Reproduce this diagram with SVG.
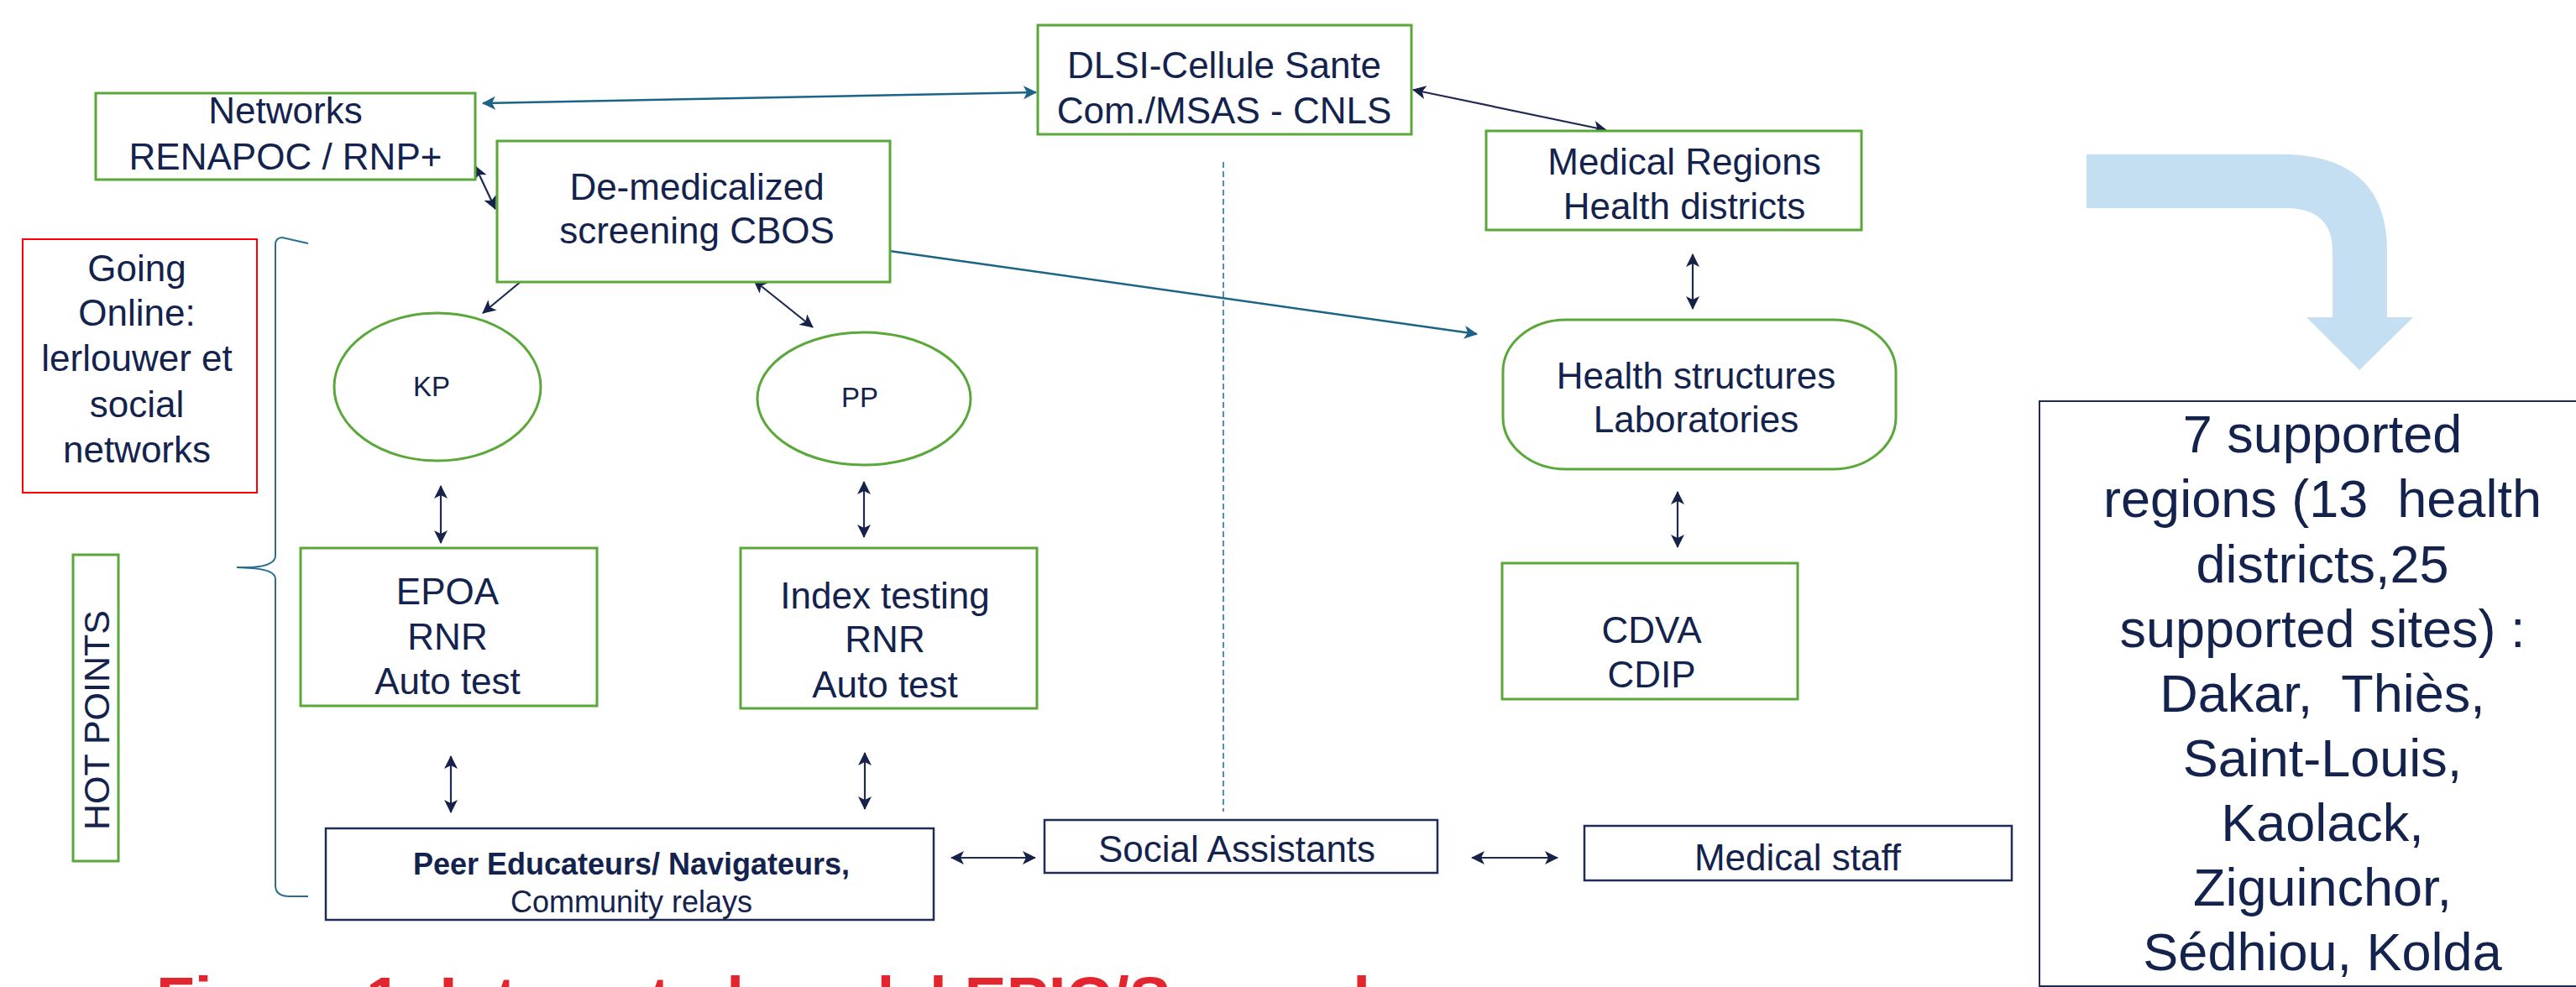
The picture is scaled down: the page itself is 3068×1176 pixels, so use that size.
<svg xmlns="http://www.w3.org/2000/svg" width="3068" height="1176" viewBox="0 0 3068 1176">
<style>
  text { font-family: "Liberation Sans", Arial, sans-serif; fill: #14234D; }
  .t44 { font-size: 44px; text-anchor: middle; }
  .t33 { font-size: 33px; text-anchor: middle; }
  .t36 { font-size: 36px; text-anchor: middle; }
  .big { font-size: 63px; text-anchor: middle; white-space: pre; }
  .gbox { fill: #FFFFFF; stroke: #5BA83A; stroke-width: 3; }
  .nbox { fill: #FFFFFF; stroke: #1F2C58; stroke-width: 2.5; }
  .teal { stroke: #1B6487; stroke-width: 2.5; fill: none; marker-start: url(#hTeal); marker-end: url(#hTeal); }
  .navy { stroke: #1E2A55; stroke-width: 2.2; fill: none; marker-start: url(#hNavy); marker-end: url(#hNavy); }
  .caption { font-size: 75px; font-weight: bold; fill: #E3262D; }
</style>
<defs>
  <marker id="hTeal" viewBox="0 0 16 16" markerWidth="16" markerHeight="16" markerUnits="userSpaceOnUse" refX="15" refY="8" orient="auto-start-reverse">
    <path d="M0,0 L16,8 L0,16 L4,8 z" fill="#1B6487"/>
  </marker>
  <marker id="hNavy" viewBox="0 0 16 16" markerWidth="16" markerHeight="16" markerUnits="userSpaceOnUse" refX="15" refY="8" orient="auto-start-reverse">
    <path d="M0,0 L16,8 L0,16 L4,8 z" fill="#16224A"/>
  </marker>
</defs>
<rect width="3068" height="1176" fill="#FFFFFF"/>

<g id="connectors">
  <line x1="1457" y1="193" x2="1457" y2="967" stroke="#2B7599" stroke-width="1.6" stroke-dasharray="7 4"/>
  <path d="M367,290 L336,283 Q328,283 328,292 L328,662 Q328,674 300,676 L282,676 L300,677 Q328,679 328,690 L328,1055 Q328,1068 345,1068 L367,1068" fill="none" stroke="#2A6E8F" stroke-width="2"/>
  <line class="teal" x1="575" y1="123" x2="1234" y2="110"/>
  <line class="navy" x1="1683" y1="107" x2="1913" y2="155"/>
  <line class="navy" x1="566" y1="198" x2="590" y2="249"/>
  <line class="navy" x1="645" y1="315" x2="575" y2="373"/>
  <line class="navy" x1="898" y1="334" x2="968" y2="390"/>
  <line class="teal" x1="1031" y1="295" x2="1759" y2="398"/>
  <line class="navy" x1="2016" y1="303" x2="2016" y2="368"/>
  <line class="navy" x1="1998" y1="586" x2="1998" y2="652"/>
  <line class="navy" x1="525" y1="579" x2="525" y2="647"/>
  <line class="navy" x1="1029" y1="574" x2="1029" y2="640"/>
  <line class="navy" x1="537" y1="901" x2="537" y2="968"/>
  <line class="navy" x1="1030" y1="897" x2="1030" y2="964"/>
  <line class="navy" x1="1133" y1="1022" x2="1233" y2="1022" stroke-width="3"/>
  <line class="navy" x1="1753" y1="1022" x2="1855" y2="1022" stroke-width="3"/>
</g>

<g id="curved-arrow">
  <path d="M2485,184 L2728,184 Q2843,190 2843,299 L2843,378 L2874,378 L2810,441 L2747,378 L2778,378 L2778,299 Q2778,250 2726,248 L2485,248 Z" fill="#C5DFF2"/>
</g>

<g id="dlsi">
  <rect class="gbox" x="1236" y="30" width="445" height="130"/>
  <text class="t44" x="1458" y="93">DLSI-Cellule Sante</text>
  <text class="t44" x="1458" y="147">Com./MSAS - CNLS</text>
</g>

<g id="networks">
  <rect class="gbox" x="114" y="111" width="452" height="103"/>
  <text class="t44" x="340" y="147">Networks</text>
  <text class="t44" x="340" y="202">RENAPOC / RNP+</text>
</g>

<g id="cbos">
  <rect class="gbox" x="592" y="168" width="468" height="168"/>
  <text class="t44" x="830" y="238">De-medicalized</text>
  <text class="t44" x="830" y="290">screening CBOS</text>
</g>

<g id="medical-regions">
  <rect class="gbox" x="1770" y="156" width="447" height="118"/>
  <text class="t44" x="2006" y="208">Medical Regions</text>
  <text class="t44" x="2006" y="261">Health districts</text>
</g>

<g id="going-online">
  <rect x="27" y="285" width="279" height="302" fill="#FFFFFF" stroke="#FF0000" stroke-width="2"/>
  <text class="t44" x="163" y="335">Going</text>
  <text class="t44" x="163" y="388">Online:</text>
  <text class="t44" x="163" y="442">lerlouwer et</text>
  <text class="t44" x="163" y="497">social</text>
  <text class="t44" x="163" y="551">networks</text>
</g>

<g id="hot-points">
  <rect class="gbox" x="87" y="661" width="54" height="365"/>
  <text class="t44" font-size="43" transform="translate(130,858) rotate(-90)" x="0" y="0" style="font-size:43px">HOT POINTS</text>
</g>

<g id="kp">
  <ellipse class="gbox" cx="521" cy="461" rx="123" ry="88"/>
  <text class="t33" x="514" y="472">KP</text>
</g>

<g id="pp">
  <ellipse class="gbox" cx="1029" cy="475" rx="127" ry="79"/>
  <text class="t33" x="1024" y="485">PP</text>
</g>

<g id="health-structures">
  <rect class="gbox" x="1790" y="381" width="468" height="178" rx="75" ry="62"/>
  <text class="t44" x="2020" y="463">Health structures</text>
  <text class="t44" x="2020" y="515">Laboratories</text>
</g>

<g id="cdva">
  <rect class="gbox" x="1789" y="671" width="352" height="162"/>
  <text class="t44" x="1967" y="766">CDVA</text>
  <text class="t44" x="1967" y="819">CDIP</text>
</g>

<g id="epoa">
  <rect class="gbox" x="358" y="653" width="353" height="188"/>
  <text class="t44" x="533" y="720">EPOA</text>
  <text class="t44" x="533" y="774">RNR</text>
  <text class="t44" x="533" y="827">Auto test</text>
</g>

<g id="index-testing">
  <rect class="gbox" x="882" y="653" width="353" height="191"/>
  <text class="t44" x="1054" y="725">Index testing</text>
  <text class="t44" x="1054" y="777">RNR</text>
  <text class="t44" x="1054" y="831">Auto test</text>
</g>

<g id="peer-educateurs">
  <rect class="nbox" x="388" y="987" width="724" height="109"/>
  <text class="t36" x="752" y="1042" font-weight="bold" style="font-weight:bold">Peer Educateurs/ Navigateurs,</text>
  <text class="t36" x="752" y="1087">Community relays</text>
</g>

<g id="social-assistants">
  <rect class="nbox" x="1244" y="977" width="468" height="63"/>
  <text class="t44" x="1473" y="1027">Social Assistants</text>
</g>

<g id="medical-staff">
  <rect class="nbox" x="1887" y="984" width="509" height="65"/>
  <text class="t44" x="2141" y="1037">Medical staff</text>
</g>

<g id="supported-regions">
  <rect x="2429" y="478" width="700" height="697" fill="#FFFFFF" stroke="#1F2C58" stroke-width="2"/>
  <text class="big" x="2766" y="539">7 supported</text>
  <text class="big" x="2766" y="616">regions (13  health</text>
  <text class="big" x="2766" y="694">districts,25</text>
  <text class="big" x="2766" y="771">supported sites) :</text>
  <text class="big" x="2766" y="848">Dakar,  Thiès,</text>
  <text class="big" x="2766" y="925">Saint-Louis,</text>
  <text class="big" x="2766" y="1002">Kaolack,</text>
  <text class="big" x="2766" y="1079">Ziguinchor,</text>
  <text class="big" x="2766" y="1156">Sédhiou, Kolda</text>
</g>

<g id="caption">
  <text class="caption" x="186" y="1216">Figure 1: Integrated model EPIC/Senegal</text>
</g>
</svg>
